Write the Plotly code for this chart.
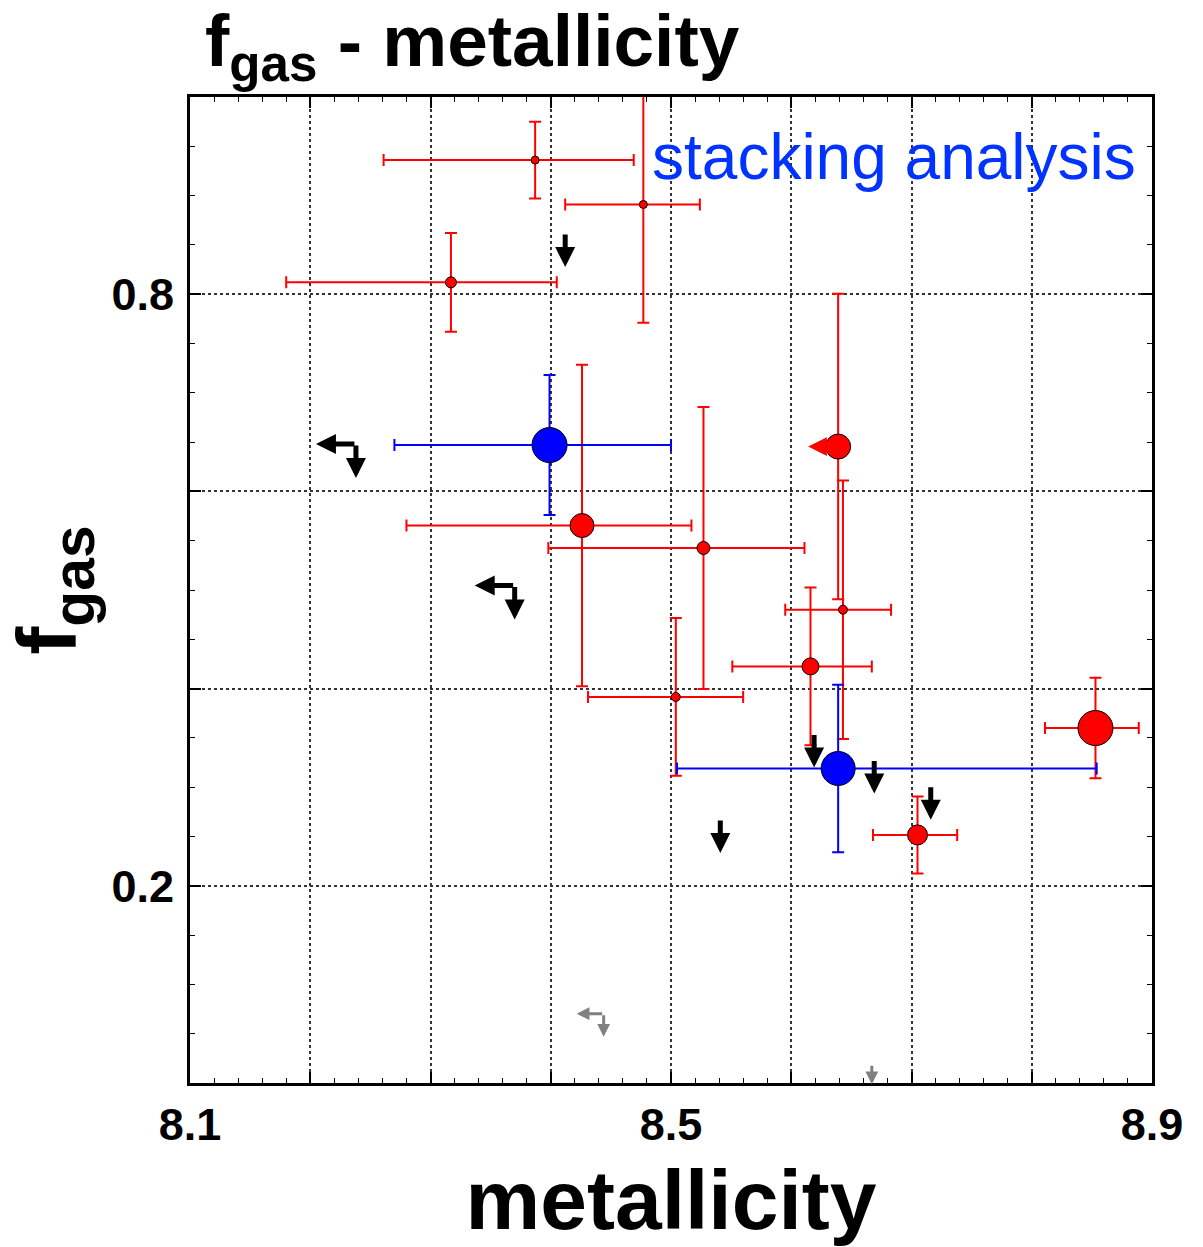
import plotly.graph_objects as go

# ---- data ----
red_x = [8.387, 8.477, 8.317, 8.639, 8.643, 8.616, 8.504, 8.527, 8.426, 8.853, 8.705]
red_y = [0.936, 0.891, 0.812, 0.6455, 0.480, 0.4225, 0.3915, 0.5426, 0.5654, 0.360, 0.2516]
red_xerr_minus = [0.126, 0.065, 0.137, 0.0, 0.048, 0.065, 0.073, 0.129, 0.146, 0.042, 0.037]
red_xerr_plus = [0.082, 0.047, 0.088, 0.0, 0.040, 0.051, 0.056, 0.084, 0.091, 0.036, 0.033]
red_yerr = [0.039, 0.120, 0.050, 0.155, 0.131, 0.080, 0.080, 0.143, 0.163, 0.051, 0.039]
red_size = [8, 8, 11, 25, 9, 17, 9, 13, 24, 35, 20]

blue_x = [8.399, 8.639]
blue_y = [0.647, 0.319]
blue_xerr_minus = [0.129, 0.134]
blue_xerr_plus = [0.101, 0.215]
blue_yerr = [0.071, 0.085]
blue_size = [35, 34]

# upper limits (black): down arrows only
ul_x = [8.412, 8.619, 8.669, 8.716, 8.541]
ul_y = [0.862, 0.3545, 0.328, 0.3014, 0.2677]
# upper limits in both quantities (black): left + down
ul2_x = [8.238, 8.370]
ul2_y = [0.648, 0.5045]
# grey limits
grey2_x = [8.444]
grey2_y = [0.0703]
grey_x = [8.667]
grey_y = [0.019]
# red point that is an upper limit in metallicity (index into red arrays)
red_left_idx = [3]

x_ticks = [8.1, 8.2, 8.3, 8.4, 8.5, 8.6, 8.7, 8.8, 8.9]
x_ticktext = ["8.1", "", "", "", "8.5", "", "", "", "8.9"]
y_ticks = [0.0, 0.2, 0.4, 0.6, 0.8, 1.0]
y_ticktext = ["", "0.2", "", "", "0.8", ""]

FONT = "Liberation Sans, Arial, Helvetica, sans-serif"

fig = go.Figure()

fig.add_trace(go.Scatter(
    x=red_x, y=red_y, mode="markers",
    marker=dict(color="#ff0000", size=red_size, opacity=1, line=dict(color="black", width=1)),
    error_x=dict(type="data", symmetric=False, array=red_xerr_plus, arrayminus=red_xerr_minus,
                 color="#ff0000", thickness=2, width=6),
    error_y=dict(type="data", array=red_yerr, color="#ff0000", thickness=2, width=6),
    showlegend=False, hoverinfo="skip"))

fig.add_trace(go.Scatter(
    x=blue_x, y=blue_y, mode="markers",
    marker=dict(color="#0000ff", size=blue_size, opacity=1, line=dict(color="black", width=1)),
    error_x=dict(type="data", symmetric=False, array=blue_xerr_plus, arrayminus=blue_xerr_minus,
                 color="#0000ff", thickness=2, width=6),
    error_y=dict(type="data", array=blue_yerr, color="#0000ff", thickness=2, width=6),
    showlegend=False, hoverinfo="skip"))


def down_arrow(x, y, color, length, width, size):
    return dict(x=x, y=y, xref="x", yref="y", text="", showarrow=True,
                ax=0, ay=-length, yshift=-length, arrowhead=2, arrowsize=size,
                arrowwidth=width, arrowcolor=color)


def left_arrow(x, y, color, length, width, size, start=0):
    return dict(x=x, y=y, xref="x", yref="y", text="", showarrow=True,
                ax=length - start, ay=0, xshift=-length, arrowhead=2, arrowsize=size,
                arrowwidth=width, arrowcolor=color)


annos = []
for x, y in zip(ul_x, ul_y):
    annos.append(down_arrow(x, y, "black", 34, 5, 0.8))
for x, y in zip(ul2_x, ul2_y):
    annos.append(left_arrow(x, y, "black", 40, 5, 0.8))
    annos.append(down_arrow(x, y, "black", 34, 5, 0.8))
for x, y in zip(grey2_x, grey2_y):
    annos.append(left_arrow(x, y, "#808080", 27, 3, 0.85))
    annos.append(down_arrow(x, y, "#808080", 23, 3, 0.85))
for x, y in zip(grey_x, grey_y):
    annos.append(down_arrow(x, y, "#808080", 20, 3, 0.85))
for i in red_left_idx:
    annos.append(left_arrow(red_x[i], red_y[i], "#ff0000", 30, 5, 0.75, start=12))

annos.append(dict(x=0.985, y=0.9395, xref="paper", yref="paper", xanchor="right", yanchor="middle",
                  text="stacking analysis", showarrow=False,
                  font=dict(family=FONT, size=64, color="#0033ff")))

axis_common = dict(
    ticks="inside", ticklen=11, tickwidth=1.5, tickcolor="black",
    showline=True, linewidth=3, linecolor="black", mirror="ticks",
    showgrid=True, gridcolor="#333333", griddash="dot", gridwidth=1.5,
    zeroline=False, tickmode="array",
    tickfont=dict(family=FONT, size=45, color="black", weight="bold"),
)

fig.update_layout(
    width=1203, height=1247,
    margin=dict(l=190, r=51, t=97, b=159),
    paper_bgcolor="white", plot_bgcolor="white",
    title=dict(text="f<sub>gas</sub> - metallicity", x=205 / 1203, xanchor="left",
               xref="container", yref="container", y=1 - 40 / 1247, yanchor="middle",
               font=dict(family=FONT, size=73, color="black", weight="bold")),
    xaxis=dict(range=[8.1, 8.9], tickvals=x_ticks, ticktext=x_ticktext,
               minor=dict(tickmode="linear", tick0=8.1, dtick=0.02, ticks="inside", ticklen=5,
                          tickcolor="black", tickwidth=1.2, showgrid=False),
               ticklabelstandoff=0,
               title=dict(text="metallicity", standoff=26,
                          font=dict(family=FONT, size=84, color="black", weight="bold")),
               **axis_common),
    yaxis=dict(range=[0, 1], tickvals=y_ticks, ticktext=y_ticktext,
               minor=dict(tickmode="linear", tick0=0, dtick=0.05, ticks="inside", ticklen=5,
                          tickcolor="black", tickwidth=1.2, showgrid=False),
               ticklabelstandoff=4,
               title=dict(text="f<sub>gas</sub>", standoff=10,
                          font=dict(family=FONT, size=84, color="black", weight="bold")),
               **axis_common),
    annotations=annos,
)

fig.write_html("out.html")
